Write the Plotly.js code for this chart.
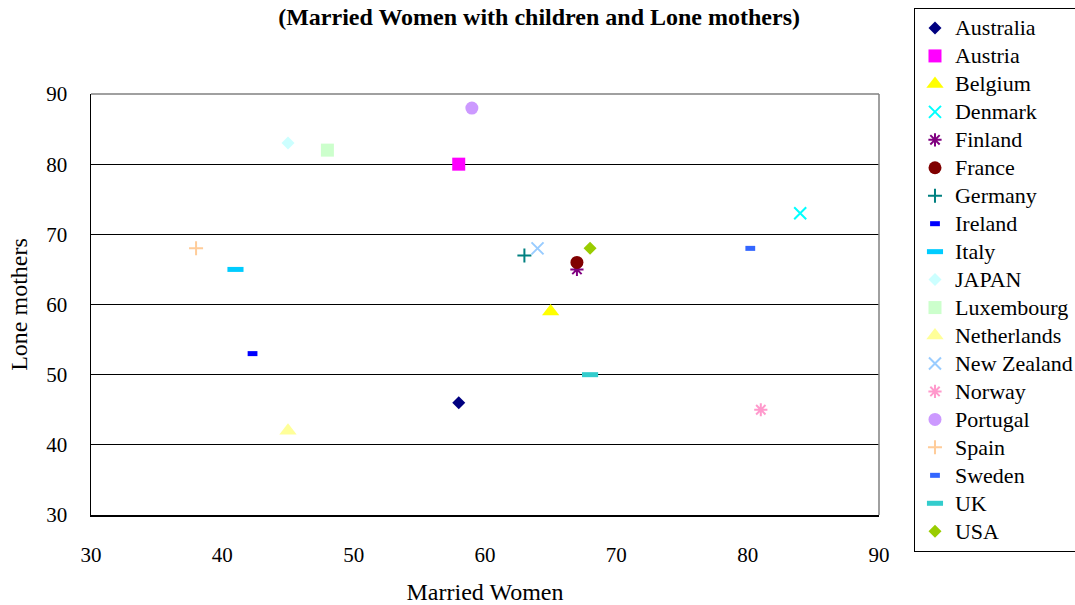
<!DOCTYPE html>
<html>
<head>
<meta charset="utf-8">
<script src="https://cdn.plot.ly/plotly-3.0.1.min.js"></script>
<style>html,body{margin:0;padding:0;background:#fff;}#chart{width:1075px;height:605px;}</style>
</head>
<body>
<div id="chart"></div>
<script>
const countries = ["Australia","Austria","Belgium","Denmark","Finland","France","Germany","Ireland","Italy","JAPAN","Luxembourg","Netherlands","New Zealand","Norway","Portugal","Spain","Sweden","UK","USA"];
const marriedWomen = [58, 58, 65, 84, 67, 67, 63, 42.3, 41, 45, 48, 45, 64, 81, 59, 38, 80.2, 68, 68];
const loneMothers  = [46, 80, 59, 73, 65, 66, 67, 53, 65, 83, 82, 42, 68, 45, 88, 68, 68, 50, 68];
const xTicks = [30, 40, 50, 60, 70, 80, 90];
const yTicks = [30, 40, 50, 60, 70, 80, 90];

const styles = [
  {symbol:"diamond", color:"#000080", size:10},
  {symbol:"square", color:"#FF00FF", size:13},
  {symbol:"triangle-up", color:"#FFFF00", size:15},
  {symbol:"x-thin", color:"#00FFFF", size:12, line:true, lw:2},
  {symbol:"asterisk", color:"#800080", size:11, line:true, lw:2},
  {symbol:"circle", color:"#800000", size:13},
  {symbol:"cross-thin", color:"#008080", size:10, line:true, lw:2},
  {symbol:"line-ew", color:"#0000FF", size:7, line:true, lw:5},
  {symbol:"line-ew", color:"#00CCFF", size:11.5, line:true, lw:5},
  {symbol:"diamond", color:"#CCFFFF", size:10},
  {symbol:"square", color:"#CCFFCC", size:13},
  {symbol:"triangle-up", color:"#FFFF99", size:15},
  {symbol:"x-thin", color:"#99CCFF", size:12, line:true, lw:2},
  {symbol:"asterisk", color:"#FF99CC", size:11, line:true, lw:2},
  {symbol:"circle", color:"#CC99FF", size:13},
  {symbol:"cross-thin", color:"#FFCC99", size:10, line:true, lw:2},
  {symbol:"line-ew", color:"#3366FF", size:7, line:true, lw:5},
  {symbol:"line-ew", color:"#33CCCC", size:11.5, line:true, lw:5},
  {symbol:"diamond", color:"#99CC00", size:10}
];

const traces = countries.map((c, i) => {
  const s = styles[i];
  const marker = {symbol: s.symbol, size: s.size, color: s.color};
  if (s.line) marker.line = {color: s.color, width: s.lw};
  else marker.line = {width: 0};
  return {type:"scatter", mode:"markers", name:'<span style="font-size:22px">' + c + '</span>',
          x:[marriedWomen[i]], y:[loneMothers[i]], marker: marker, cliponaxis:false};
});

const serif = "Liberation Serif, Times New Roman, serif";
const layout = {
  width:1075, height:605,
  margin:{l:91, r:196, t:94, b:90, autoexpand:false},
  paper_bgcolor:"#fff", plot_bgcolor:"#fff",
  font:{family:serif, size:21, color:"#000"},
  title:{text:"<b>(Married Women with children and Lone mothers)</b>", font:{family:serif, size:24, color:"#000"},
         xref:"container", x:0.5015, xanchor:"center", yref:"container", y:0.972, yanchor:"middle"},
  xaxis:{range:[30,90], tickvals:xTicks, ticktext:xTicks.map(String), showgrid:false, zeroline:false,
         showline:true, linecolor:"#000", linewidth:1.5, ticks:"", ticklabelstandoff:20,
         tickfont:{family:serif, size:21},
         title:{text:"Married Women", font:{family:serif, size:24}, standoff:18}},
  yaxis:{range:[30,90], tickvals:yTicks, ticktext:yTicks.map(String), showgrid:true, gridcolor:"#000", gridwidth:1,
         zeroline:false, showline:true, linecolor:"#000", linewidth:1.5, ticks:"", ticklabelstandoff:18,
         tickfont:{family:serif, size:21},
         title:{text:"Lone mothers", font:{family:serif, size:24}, standoff:12}},
  shapes:[
    {type:"line", xref:"paper", yref:"paper", x0:0, x1:1, y0:1, y1:1, line:{color:"#808080", width:1.5}},
    {type:"line", xref:"paper", yref:"paper", x0:1, x1:1, y0:0, y1:1, line:{color:"#808080", width:1.5}}
  ],
  showlegend:true,
  legend:{x:1.0444, xanchor:"left", y:1.2043, yanchor:"top", bordercolor:"#000", borderwidth:1, bgcolor:"#fff",
          font:{family:serif, size:19.2, color:"#000"}, tracegroupgap:0, itemwidth:30, maxheight:600}
};

Plotly.newPlot("chart", traces, layout, {displayModeBar:false, staticPlot:true});
</script>
</body>
</html>
